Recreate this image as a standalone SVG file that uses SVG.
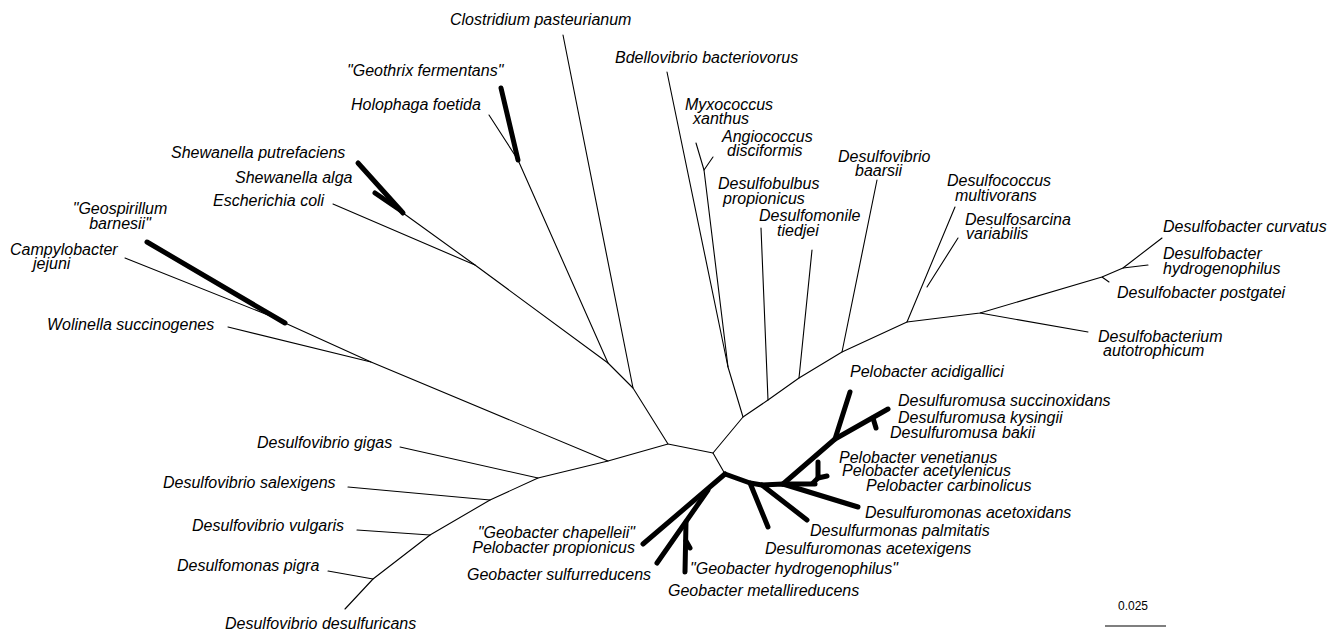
<svg xmlns="http://www.w3.org/2000/svg" width="1328" height="634" viewBox="0 0 1328 634">
<style>
.t{font-family:"Liberation Sans",Arial,sans-serif;font-style:italic;font-size:16px;fill:#000}
.s{font-family:"Liberation Sans",Arial,sans-serif;font-size:12px;fill:#000}
.b{stroke:#000;stroke-width:1.1;fill:none;stroke-linecap:round;stroke-linejoin:round}
.k{stroke:#000;stroke-width:5;fill:none;stroke-linecap:round;stroke-linejoin:round}
</style>
<rect width="1328" height="634" fill="#fff"/>
<g id="connectors">
<polyline class="b" points="563,35 633,388"/>
<polyline class="b" points="489,115 518,160 608,363 633,388 668,444 713,453 725,474"/>
<polyline class="b" points="403,213 475,265 608,363"/>
<polyline class="b" points="333,204 475,265"/>
<polyline class="b" points="125,258 278,319"/>
<polyline class="b" points="285,323 371,362 608,461 668,444"/>
<polyline class="b" points="228,327 371,362"/>
<polyline class="b" points="608,461 538,478 490,500 430,535 373,579 345,609"/>
<polyline class="b" points="400,447 538,478"/>
<polyline class="b" points="348,487 490,500"/>
<polyline class="b" points="357,530 430,535"/>
<polyline class="b" points="328,571 373,579"/>
<polyline class="b" points="713,453 743,417 768,400 799,378 842,352 907,322 980,313 1102,277 1123,268 1162,238"/>
<polyline class="b" points="667,72 728,367 743,417"/>
<polyline class="b" points="696,143 704,170 728,367"/>
<polyline class="b" points="713,157 704,170"/>
<polyline class="b" points="761,228 768,400"/>
<polyline class="b" points="812,250 799,378"/>
<polyline class="b" points="877,180 842,352"/>
<polyline class="b" points="955,207 907,322"/>
<polyline class="b" points="958,238 927,287"/>
<polyline class="b" points="980,313 1088,332"/>
<polyline class="b" points="1102,277 1109,282"/>
<polyline class="b" points="1123,268 1148,265"/>
<polyline class="k" points="501,88 518,160"/>
<polyline class="k" points="358,163 403,213"/>
<polyline class="k" points="375,193 400,210"/>
<polyline class="k" points="147,242 285,323"/>
<polyline class="k" points="725,474 643,544"/>
<polyline class="k" points="708,490 657,563"/>
<polyline class="k" points="686,522 685,572"/>
<polyline class="k" points="686,541 690,548"/>
<polyline class="k" points="725,474 750,483 762,485 783,484 858,507"/>
<polyline class="k" points="750,483 768,527"/>
<polyline class="k" points="762,485 807,520"/>
<polyline class="k" points="783,484 815,484"/>
<polyline class="k" points="818,462 818,478 827,476"/>
<polyline class="k" points="813,483 818,478"/>
<polyline class="k" points="783,484 835,439 850,392"/>
<polyline class="k" points="835,439 888,409"/>
<polyline class="k" points="873,418 876,428"/>
<line x1="1105" y1="626" x2="1166" y2="626" stroke="#000" stroke-width="1.2"/>
</g>
<g id="n-clostridium"><text class="t" x="450" y="25">Clostridium pasteurianum</text></g>
<g id="n-geothrix"><text class="t" x="347" y="76">"Geothrix fermentans"</text></g>
<g id="n-holophaga"><text class="t" x="351" y="110">Holophaga foetida</text></g>
<g id="n-shewanella-p"><text class="t" x="171" y="158">Shewanella putrefaciens</text></g>
<g id="n-shewanella-a"><text class="t" x="235" y="183">Shewanella alga</text></g>
<g id="n-ecoli"><text class="t" x="213" y="206">Escherichia coli</text></g>
<g id="n-geospirillum"><text class="t" x="120" y="214" text-anchor="middle">"Geospirillum</text><text class="t" x="120" y="229" text-anchor="middle">barnesii"</text></g>
<g id="n-campylobacter"><text class="t" x="10" y="255">Campylobacter</text><text class="t" x="33" y="269">jejuni</text></g>
<g id="n-wolinella"><text class="t" x="47" y="330">Wolinella succinogenes</text></g>
<g id="n-dv-gigas"><text class="t" x="257" y="448">Desulfovibrio gigas</text></g>
<g id="n-dv-salexigens"><text class="t" x="163" y="488">Desulfovibrio salexigens</text></g>
<g id="n-dv-vulgaris"><text class="t" x="192" y="531">Desulfovibrio vulgaris</text></g>
<g id="n-dm-pigra"><text class="t" x="177" y="571">Desulfomonas pigra</text></g>
<g id="n-dv-desulfuricans"><text class="t" x="225" y="629">Desulfovibrio desulfuricans</text></g>
<g id="n-bdellovibrio"><text class="t" x="615" y="63">Bdellovibrio bacteriovorus</text></g>
<g id="n-myxococcus"><text class="t" x="685" y="110">Myxococcus</text><text class="t" x="693" y="124">xanthus</text></g>
<g id="n-angiococcus"><text class="t" x="722" y="142">Angiococcus</text><text class="t" x="727" y="156">disciformis</text></g>
<g id="n-desulfobulbus"><text class="t" x="718" y="189">Desulfobulbus</text><text class="t" x="723" y="204">propionicus</text></g>
<g id="n-desulfomonile"><text class="t" x="759" y="221">Desulfomonile</text><text class="t" x="777" y="236">tiedjei</text></g>
<g id="n-dv-baarsii"><text class="t" x="838" y="162">Desulfovibrio</text><text class="t" x="855" y="176">baarsii</text></g>
<g id="n-desulfococcus"><text class="t" x="947" y="186">Desulfococcus</text><text class="t" x="955" y="201">multivorans</text></g>
<g id="n-desulfosarcina"><text class="t" x="965" y="225">Desulfosarcina</text><text class="t" x="966" y="239">variabilis</text></g>
<g id="n-db-curvatus"><text class="t" x="1163" y="232">Desulfobacter curvatus</text></g>
<g id="n-db-hydrogenophilus"><text class="t" x="1163" y="259">Desulfobacter</text><text class="t" x="1163" y="274">hydrogenophilus</text></g>
<g id="n-db-postgatei"><text class="t" x="1117" y="298">Desulfobacter postgatei</text></g>
<g id="n-desulfobacterium"><text class="t" x="1098" y="342">Desulfobacterium</text><text class="t" x="1103" y="356">autotrophicum</text></g>
<g id="n-p-acidigallici"><text class="t" x="850" y="377">Pelobacter acidigallici</text></g>
<g id="n-dm-succinoxidans"><text class="t" x="898" y="406">Desulfuromusa succinoxidans</text></g>
<g id="n-dm-kysingii"><text class="t" x="898" y="423">Desulfuromusa kysingii</text></g>
<g id="n-dm-bakii"><text class="t" x="890" y="438">Desulfuromusa bakii</text></g>
<g id="n-p-venetianus"><text class="t" x="839" y="463">Pelobacter venetianus</text></g>
<g id="n-p-acetylenicus"><text class="t" x="842" y="476">Pelobacter acetylenicus</text></g>
<g id="n-p-carbinolicus"><text class="t" x="866" y="491">Pelobacter carbinolicus</text></g>
<g id="n-ds-acetoxidans"><text class="t" x="865" y="518">Desulfuromonas acetoxidans</text></g>
<g id="n-ds-palmitatis"><text class="t" x="810" y="536">Desulfurmonas palmitatis</text></g>
<g id="n-ds-acetexigens"><text class="t" x="765" y="554">Desulfuromonas acetexigens</text></g>
<g id="n-g-hydrogenophilus"><text class="t" x="690" y="574">"Geobacter hydrogenophilus"</text></g>
<g id="n-g-metallireducens"><text class="t" x="668" y="596">Geobacter metallireducens</text></g>
<g id="n-g-chapelleii"><text class="t" x="635" y="538" text-anchor="end">"Geobacter chapelleii"</text><text class="t" x="635" y="553" text-anchor="end">Pelobacter propionicus</text></g>
<g id="n-g-sulfurreducens"><text class="t" x="467" y="580">Geobacter sulfurreducens</text></g>
<g id="scale"><text class="s" x="1133" y="610" text-anchor="middle">0.025</text></g>
</svg>
